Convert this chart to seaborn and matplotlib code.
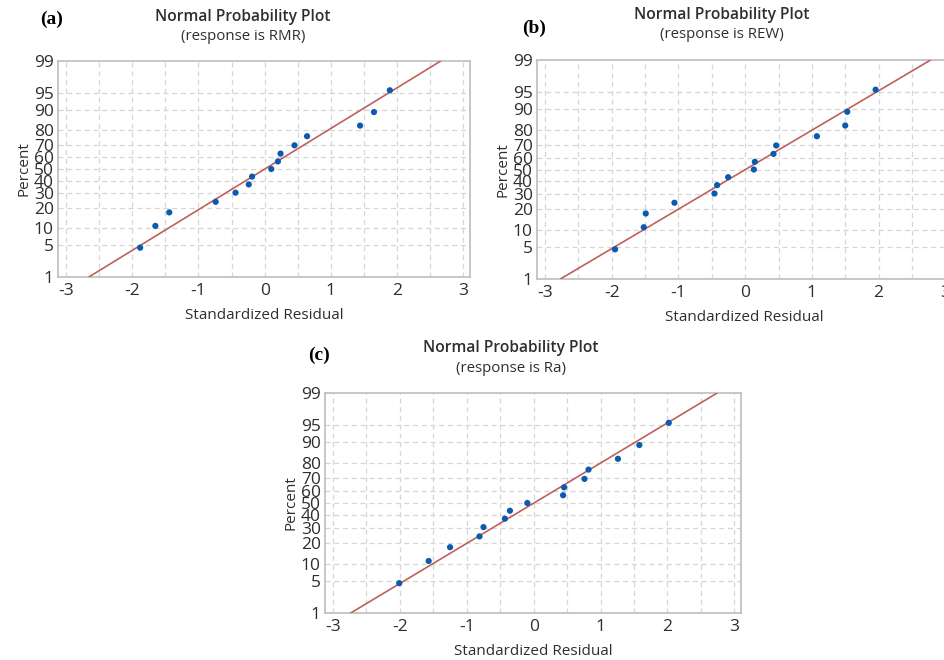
import numpy as np
import pandas as pd
import seaborn as sns
import matplotlib
matplotlib.use("Agg")
import matplotlib.pyplot as plt
from statistics import NormalDist

# ---------------- data ----------------
percent = [4.5, 11.0, 17.5, 24.0, 30.5, 37.0, 43.5, 50.0, 56.5, 63.0, 69.5, 76.0, 82.5, 89.0, 95.5]
resid_rmr = [-1.88, -1.65, -1.44, -0.74, -0.44, -0.24, -0.19, 0.10, 0.20, 0.24, 0.45, 0.64, 1.44, 1.65, 1.89]
resid_rew = [-1.95, -1.52, -1.49, -1.06, -0.46, -0.42, -0.255, 0.13, 0.145, 0.425, 0.465, 1.075, 1.50, 1.53, 1.955]
resid_ra = [-2.01, -1.57, -1.25, -0.81, -0.75, -0.43, -0.355, -0.095, 0.44, 0.455, 0.76, 0.82, 1.26, 1.58, 2.02]
responses = ["RMR", "REW", "Ra"]
panel_labels = ["(a)", "(b)", "(c)"]
y_ticks = [1, 5, 10, 20, 30, 40, 50, 60, 70, 80, 90, 95, 99]
x_ticks = [-3, -2, -1, 0, 1, 2, 3]

sns.set_theme(style="white")
plt.rcParams['font.family'] = ['Open Sans', 'DejaVu Sans']

nd = NormalDist()
def z(p):
    return nd.inv_cdf(p / 100.0)

fig = plt.figure(figsize=(9.44, 6.6), dpi=100)
W, H = 944, 660

def px_axes(l, t, r, b):
    return fig.add_axes([l / W, 1 - b / H, (r - l) / W, (b - t) / H])

boxes = [(58, 61, 470, 277), (537, 60, 952, 279), (325, 393, 741, 613)]
title_pos = [(243, 17, 37), (722, 15, 35), (511, 348, 369)]
label_pos = [(40, 19), (522, 28), (308, 355)]
series = [resid_rmr, resid_rew, resid_ra]

dot_color = "#0B5AAF"
line_color = "#C0605C"
frame_color = "#BDBDBD"
grid_color = "#D6D6D6"
text_color = "#2E2E2E"

for i, (box, res) in enumerate(zip(boxes, series)):
    ax = px_axes(*box)
    df = pd.DataFrame({"resid": res, "pct": percent})
    df["z"] = df["pct"].apply(z)
    mu = float(np.mean(res))
    sd = float(np.std(res, ddof=1))
    zl, zh = z(1), z(99)
    x_lo, x_hi = mu + sd * zl, mu + sd * zh
    line_df = pd.DataFrame({"x": [x_lo, x_hi], "y": [zl, zh]})
    sns.lineplot(data=line_df, x="x", y="y", ax=ax, color=line_color, linewidth=1.2, zorder=3)
    sns.scatterplot(data=df, x="resid", y="z", ax=ax, color=dot_color, s=20,
                    edgecolor="none", zorder=4)
    ax.set_xlim(-3.12, 3.1)
    ax.set_ylim(zl, zh)
    ax.set_xticks(x_ticks)
    ax.set_xticklabels([str(v) for v in x_ticks])
    ax.set_yticks([z(v) for v in y_ticks])
    ax.set_yticklabels([str(v) for v in y_ticks])
    for v in np.arange(-3, 3.01, 0.5):
        ax.axvline(v, color=grid_color, lw=0.9, ls=(0, (4, 3)), zorder=1)
    for v in y_ticks[1:-1]:
        ax.axhline(z(v), color=grid_color, lw=0.9, ls=(0, (4, 3)), zorder=1)
    ax.tick_params(axis="both", which="major", length=3, width=0.8, color=frame_color,
                   labelsize=12.5, labelcolor=text_color, pad=1)
    ax.tick_params(axis="y", pad=0)
    for s in ax.spines.values():
        s.set_color(frame_color)
        s.set_linewidth(1.2)
    ax.set_xlabel("Standardized Residual", fontsize=11, color=text_color, labelpad=7)
    ax.set_ylabel("Percent", fontsize=11, color=text_color, labelpad=2)
    tx, ty1, ty2 = title_pos[i]
    fig.text(tx / W, 1 - ty1 / H, "Normal Probability Plot", ha="center", va="center",
             fontsize=11.2, fontweight="semibold", color=text_color)
    fig.text(tx / W, 1 - ty2 / H, "(response is %s)" % responses[i], ha="center", va="center",
             fontsize=10.8, color=text_color)
    lx, ly = label_pos[i]
    fig.text(lx / W, 1 - ly / H, panel_labels[i], ha="left", va="center",
             fontsize=14, fontweight="bold", family=["Liberation Serif", "DejaVu Serif"], color="black")

fig.savefig("out.png", dpi=100)
